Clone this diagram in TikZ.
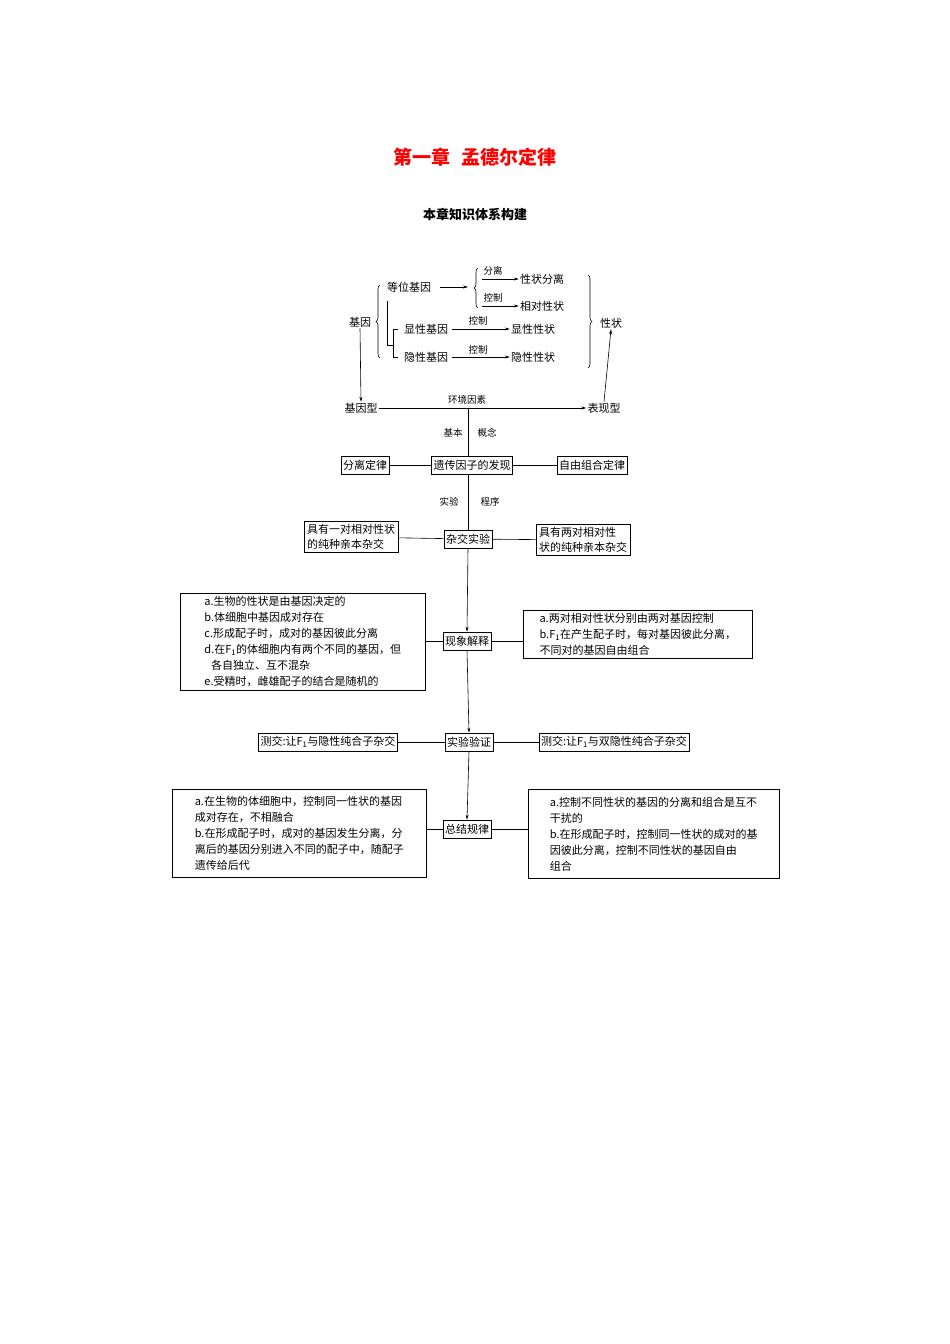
\documentclass[tikz,border=0pt]{standalone}
\usepackage{fontspec}
\setmainfont{Noto Sans CJK SC}
\usetikzlibrary{arrows.meta,decorations.pathreplacing}
\begin{document}
\begin{tikzpicture}[x=1pt,y=-1pt,
  every node/.style={font=\fontsize{11}{15}\selectfont, inner sep=1pt},
  lab/.style={font=\fontsize{9.5}{11}\selectfont},
  box/.style={draw, line width=0.6pt, inner sep=2pt, minimum height=18pt},
  tbox/.style={draw, line width=0.6pt, inner sep=3pt, align=left, anchor=north west, font=\fontsize{11}{16}\selectfont},
  ln/.style={line width=0.6pt},
  arr/.style={line width=0.6pt, -{Stealth[length=5pt,width=3pt]}},
  brc/.style={decorate, decoration={brace, amplitude=4pt}, line width=0.6pt}]
\useasboundingbox (0,0) rectangle (950,1344);
\node[font=\fontsize{19}{22}\selectfont\bfseries, text=red] (title) at (475,157) {第一章\hspace{0.6em}孟德尔定律};
\node[font=\fontsize{13}{15}\selectfont\bfseries] (sub) at (475,214) {本章知识体系构建};
% top part
\node (jy) at (360,322) {基因};
\draw[brc] (380,358) -- (380,285);
\node (dw) at (409,287) {等位基因};
\coordinate (b1) at (468,287);
\draw[arr] (dw.east)++(8,0) -- (b1);
\draw[brc] (478,308) -- (478,268);
\node (xzfl) at (542,279) {性状分离};
\node (xdxz) at (542,306) {相对性状};
\draw[arr] (482,279) -- (xzfl.west); \node[lab] (l1) at (493,271) {分离};
\draw[arr] (482,306) -- (xdxz.west); \node[lab] (l2) at (493,298) {控制};
\node (xx) at (426,329) {显性基因};
\node (yx) at (426,357) {隐性基因};
\draw[ln] (387,301) -- (387,345) -- (393,345);
\draw[ln] (398,329) -- (393,329) -- (393,357) -- (398,357);
\node (xxxz) at (533,329) {显性性状};
\node (yxxz) at (533,357) {隐性性状};
\draw[arr] (xx.east)++(3,0) -- (xxxz.west); \node[lab] (l3) at (478,321) {控制};
\draw[arr] (yx.east)++(3,0) -- (yxxz.west); \node[lab] (l4) at (478,350) {控制};
\draw[brc] (588,275) -- (588,368);
\node (xz) at (611,323) {性状};
\node (jyx) at (361,408) {基因型};
\node (bxx) at (604,408) {表现型};
\draw[arr] (jy.south) -- (jyx.north);
\draw[arr] (jyx.east) -- (bxx.west);
\node[lab] (hj) at (467,400) {环境因素};
\draw[arr] (bxx.north) -- (xz.south);
% middle column
\coordinate (c0) at (468,408);
\node[box] (fx) at (472,465) {遗传因子的发现};
\node[box] (fl) at (365,465) {分离定律};
\node[box] (zy) at (592,465) {自由组合定律};
\draw[ln] (c0) -- (468,456);
\node[lab] (jb) at (453,433) {基本};
\node[lab] (gn) at (487,433) {概念};
\draw[ln] (fl) -- (fx); \draw[ln] (fx) -- (zy);
\node[box] (zj) at (468,539) {杂交实验};
\draw[ln] (468,474) -- (zj.north);
\node[lab] (sy) at (449,502) {实验};
\node[lab] (cx) at (490,502) {程序};
\node[tbox, anchor=center, font=\fontsize{11}{15}\selectfont] (zl) at (351,537) {具有一对相对性状\\的纯种亲本杂交};
\node[tbox, anchor=center, font=\fontsize{11}{15}\selectfont] (zr) at (583,540) {具有两对相对性\\状的纯种亲本杂交};
\draw[ln] (zl) -- (zj); \draw[ln] (zj) -- (zr);
\node[box] (xs) at (467,641) {现象解释};
\draw[arr] (zj.south) -- (xs.north);
\node[tbox, minimum width=245pt] (xl) at (180,593) {a.生物的性状是由基因决定的\\b.体细胞中基因成对存在\\c.形成配子时，成对的基因彼此分离\\d.在F\textsubscript{1}的体细胞内有两个不同的基因，但\\\hspace*{0.6em}各自独立、互不混杂\\e.受精时，雌雄配子的结合是随机的};
\node[tbox, minimum width=229pt] (xr) at (523,610) {a.两对相对性状分别由两对基因控制\\b.F\textsubscript{1}在产生配子时，每对基因彼此分离，\\不同对的基因自由组合};
\draw[ln] (xl.east |- xs) -- (xs); \draw[ln] (xs) -- (xr.west |- xs);
\node[box] (yz) at (469,742) {实验验证};
\draw[arr] (xs.south) -- (yz.north);
\node[box] (yl) at (328,742) {测交:让F\textsubscript{1}与隐性纯合子杂交};
\node[box] (yr) at (614,742) {测交:让F\textsubscript{1}与双隐性纯合子杂交};
\draw[ln] (yl) -- (yz); \draw[ln] (yz) -- (yr);
\node[box] (zg) at (467,829) {总结规律};
\draw[arr] (yz.south) -- (zg.north);
\node[tbox, minimum width=254pt, minimum height=88pt] (gl) at (172,789) {a.在生物的体细胞中，控制同一性状的基因\\成对存在，不相融合\\b.在形成配子时，成对的基因发生分离，分\\离后的基因分别进入不同的配子中，随配子\\遗传给后代};
\node[tbox, minimum width=251pt, minimum height=89pt] (gr) at (528,789) {a.控制不同性状的基因的分离和组合是互不\\干扰的\\b.在形成配子时，控制同一性状的成对的基\\因彼此分离，控制不同性状的基因自由\\组合};
\draw[ln] (gl.east |- zg) -- (zg); \draw[ln] (zg) -- (gr.west |- zg);
\end{tikzpicture}
\end{document}
